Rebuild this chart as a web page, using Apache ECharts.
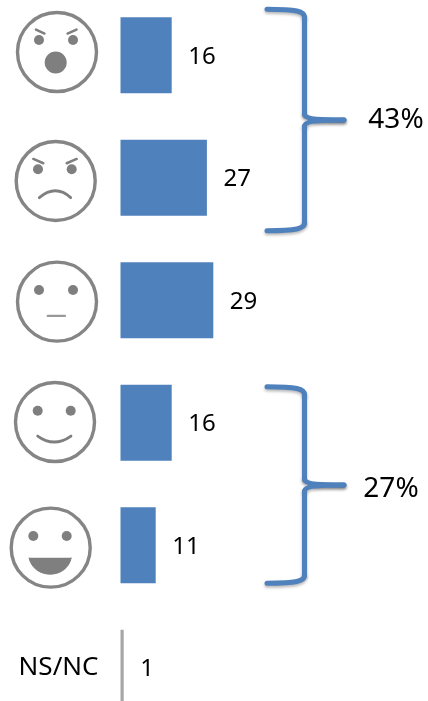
<!DOCTYPE html>
<html>
<head>
<meta charset="utf-8">
<script src="https://cdn.jsdelivr.net/npm/echarts@6/dist/echarts.min.js"></script>
<style>html,body{margin:0;padding:0;background:#fff;overflow:hidden}#c{width:428px;height:701px}</style>
</head>
<body>
<div id="c"></div>
<script>
// Data
const categories = ['Muy enfadado', 'Enfadado', 'Neutro', 'Contento', 'Muy contento', 'NS/NC'];
const values = [16, 27, 29, 16, 11, 1];
const groupFirst = [0, 3];
const groupLast = [1, 4];
const groupLabels = ['43%', '27%'];

const BLUE = '#4f81bd', GREY = '#7f7f7f', FONT = '"Noto Sans", "Open Sans", sans-serif';
const faceOffset = [[-63.5, -3.2], [-64.8, 3.2], [-63.5, 1.4], [-65.5, -0.7], [-69.8, 2.4]];
const braceStyle = [
  { top: 46, bottom: 53, labelX: 396, labelDy: 0 },
  { top: 36, bottom: 38, labelX: 391, labelDy: 4 }
];

function ring(cx, cy) {
  return { type: 'circle', shape: { cx, cy, r: 39.5 }, style: { fill: '#fff', stroke: '#858585', lineWidth: 3.4 } };
}
function dot(cx, cy, r) {
  return { type: 'circle', shape: { cx, cy, r: r || 5 }, style: { fill: GREY } };
}
function seg(x1, y1, x2, y2, w, col) {
  return { type: 'line', shape: { x1, y1, x2, y2 }, style: { stroke: col || GREY, lineWidth: w || 2.5, lineCap: 'round' } };
}
function curve(x1, y1, cx, cy, x2, y2, w, col) {
  return { type: 'bezierCurve', shape: { x1, y1, cpx1: cx, cpy1: cy, x2, y2 },
    style: { fill: null, stroke: col || GREY, lineWidth: w || 2.8, lineCap: 'round' } };
}
function faceParts(i, x, y) {
  const p = [ring(x, y)];
  if (i === 0) {
    p.push(dot(x - 18, y - 12), dot(x + 16, y - 12), dot(x - 1.3, y + 10.5, 11),
      seg(x - 21, y - 22.5, x - 12.5, y - 18.5), seg(x + 10.5, y - 18.5, x + 19.5, y - 22.5));
  } else if (i === 1) {
    p.push(dot(x - 17.7, y - 11.7), dot(x + 16, y - 11.7),
      seg(x - 22.4, y - 22, x - 12.4, y - 17.7), seg(x + 11, y - 17.7, x + 21, y - 22),
      curve(x - 16.4, y + 16.7, x, y + 3, x + 15, y + 16.7));
  } else if (i === 2) {
    p.push(dot(x - 18, y - 11.7), dot(x + 16, y - 11.7), seg(x - 9.3, y + 14.3, x + 8, y + 14.3, 2.2, '#999'));
  } else if (i === 3) {
    p.push(dot(x - 17.3, y - 11.3), dot(x + 15.7, y - 11.3), curve(x - 17.3, y + 14, x - 1, y + 26, x + 16, y + 14));
  } else if (i === 4) {
    p.push(dot(x - 17.4, y - 11.7), dot(x + 16, y - 11.7), {
      type: 'bezierCurve',
      shape: { x1: x - 21.7, y1: y + 10, cpx1: x - 17, cpy1: y + 32, cpx2: x + 16, cpy2: y + 32, x2: x + 20.6, y2: y + 10 },
      style: { fill: GREY, stroke: GREY, lineWidth: 1 }
    });
  }
  return p;
}

function braceParts(g, top, bottom) {
  const L = 267, V = 304.5, T = 344, mid = (top + bottom) / 2;
  const shadow = { shadowBlur: 3, shadowOffsetY: 2, shadowColor: 'rgba(0,0,0,0.28)' };
  const parts = [
    { type: 'bezierCurve', shape: { x1: L, y1: top, cpx1: V - 8, cpy1: top, cpx2: V, cpy2: top + 2, x2: V, y2: top + 8 } },
    { type: 'line', shape: { x1: V, y1: top + 8, x2: V, y2: mid - 6 } },
    { type: 'bezierCurve', shape: { x1: V, y1: mid - 6, cpx1: V, cpy1: mid - 1, cpx2: V + 14, cpy2: mid, x2: T, y2: mid } },
    { type: 'bezierCurve', shape: { x1: T, y1: mid, cpx1: V + 14, cpy1: mid, cpx2: V, cpy2: mid + 1, x2: V, y2: mid + 6 } },
    { type: 'line', shape: { x1: V, y1: mid + 6, x2: V, y2: bottom - 8 } },
    { type: 'bezierCurve', shape: { x1: V, y1: bottom - 8, cpx1: V, cpy1: bottom - 2, cpx2: V - 8, cpy2: bottom, x2: L, y2: bottom } }
  ].map(o => Object.assign(o, { style: Object.assign({ fill: null, stroke: BLUE, lineWidth: 5, lineCap: 'round' }, shadow) }));
  return parts;
}

const chart = echarts.init(document.getElementById('c'), null, { renderer: 'canvas' });
chart.setOption({
  animation: false,
  backgroundColor: '#fff',
  grid: { left: 120.5, top: -6, width: 320, height: 735, containLabel: false, outerBoundsMode: 'none' },
  xAxis: { type: 'value', min: 0, max: 100, show: false },
  yAxis: {
    type: 'category', inverse: true, data: categories,
    axisLine: { show: false }, axisTick: { show: false },
    axisLabel: {
      interval: 0, margin: 22, color: '#000', fontFamily: FONT, fontSize: 26,
      formatter: v => (v === 'NS/NC' ? v : '')
    }
  },
  series: [
    {
      type: 'bar',
      data: values.map((v, i) => ({ value: v, itemStyle: { color: i === values.length - 1 ? '#a6a6a6' : BLUE } })),
      barWidth: 76,
      label: { show: true, position: 'right', distance: 16.5, offset: [0, 1.5], color: '#000', fontFamily: FONT, fontSize: 24 }
    },
    {
      type: 'custom', coordinateSystem: 'cartesian2d', clip: false, silent: true,
      data: categories.slice(0, 5).map((c, i) => [0, i]),
      encode: { x: 0, y: 1 },
      renderItem(params, api) {
        const i = api.value(1), c = api.coord([0, i]), o = faceOffset[i];
        return { type: 'group', children: faceParts(i, c[0] + o[0], c[1] + o[1]) };
      }
    },
    {
      type: 'custom', coordinateSystem: 'cartesian2d', clip: false, silent: true,
      data: groupFirst.map((f, i) => [0, f, groupLast[i], i]),
      encode: { x: 0, y: 1 },
      renderItem(params, api) {
        const g = api.value(3), s = braceStyle[g];
        const top = api.coord([0, api.value(1)])[1] - s.top;
        const bottom = api.coord([0, api.value(2)])[1] + s.bottom;
        const children = braceParts(g, top, bottom);
        children.push({
          type: 'text', x: s.labelX, y: (top + bottom) / 2 + s.labelDy,
          style: { text: groupLabels[g], fill: '#000', font: '28px ' + FONT, align: 'center', verticalAlign: 'middle' }
        });
        return { type: 'group', children };
      }
    }
  ]
});
</script>
</body>
</html>
